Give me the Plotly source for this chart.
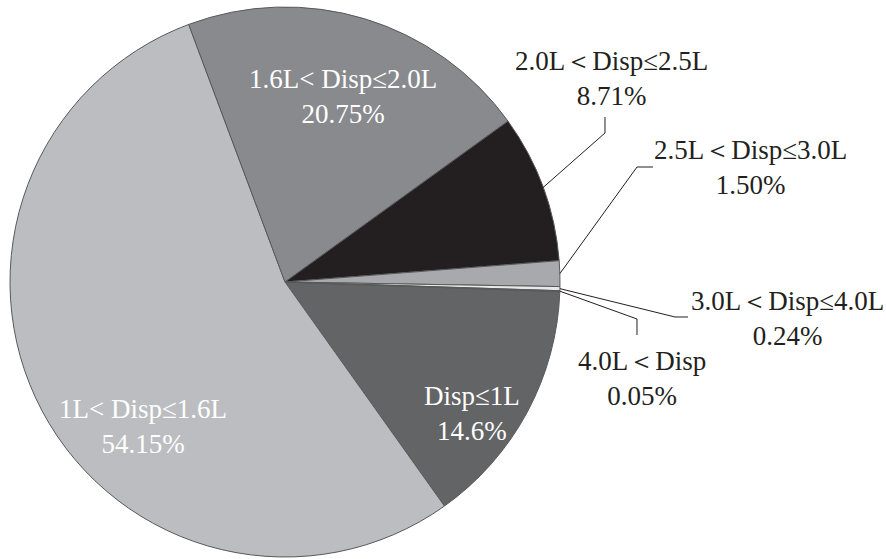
import numpy as np
import plotly.graph_objects as go

# ---- data ----
categories = ["Disp≤1L", "1L< Disp≤1.6L", "1.6L< Disp≤2.0L", "2.0L＜Disp≤2.5L",
              "2.5L＜Disp≤3.0L", "3.0L＜Disp≤4.0L", "4.0L＜Disp"]
shares = [14.6, 54.15, 20.75, 8.71, 1.50, 0.24, 0.05]
share_text = ["14.6%", "54.15%", "20.75%", "8.71%", "1.50%", "0.24%", "0.05%"]
colors = ["#636466", "#bcbdc0", "#898a8d", "#231f20", "#a7a9ac", "#e8e8e9", "#6d6e70"]

W, H = 886, 559
CX, CY, R = 285, 282, 275
ROT = 92  # degrees clockwise from 12 o'clock where first slice starts

fig = go.Figure(go.Pie(
    labels=categories, values=shares, sort=False, direction="clockwise",
    rotation=ROT, textinfo="none", hoverinfo="label+percent",
    marker=dict(colors=colors, line=dict(color="#58595b", width=1)),
    domain=dict(x=[(CX - R) / W, (CX + R) / W], y=[1 - (CY + R) / H, 1 - (CY - R) / H]),
    showlegend=False,
))

FONT = "Liberation Serif, Times New Roman, serif"

def px(x, y):
    return x / W, 1 - y / H

# label placements (pixel centers) and styles
inside = {0: (472, 413), 1: (143, 426), 2: (343, 96)}
outside = {
    3: dict(pos=(611, 78), path=[(605, 133), (605, 117)]),
    4: dict(pos=(750, 168), path=[(637, 167), (653, 167)]),
    5: dict(pos=(787, 318), path=[(675, 317), (688, 317)]),
    6: dict(pos=(642, 378), path=[(637, 319), (637, 335)]),
}

annotations = []
shapes = []
vals = np.array(shares) / sum(shares)
cum = np.cumsum(vals)
for i, cat in enumerate(categories):
    txt = f"{cat}<br>{share_text[i]}"
    if i in inside:
        x, y = inside[i]
        color = "white"
    else:
        x, y = outside[i]["pos"]
        color = "#231f20"
        mid = cum[i] - vals[i] / 2
        ang = np.deg2rad(ROT - 90 + mid * 360)
        sx, sy = CX + R * np.cos(ang), CY + R * np.sin(ang)
        pts = [(sx, sy)] + outside[i]["path"]
        d = "M " + " L ".join(f"{p[0] / W:.5f},{1 - p[1] / H:.5f}" for p in pts)
        shapes.append(dict(type="path", path=d, xref="paper", yref="paper",
                           line=dict(color="#231f20", width=1)))
    ax, ay = px(x, y)
    annotations.append(dict(x=ax, y=ay, xref="paper", yref="paper", text=txt,
                            showarrow=False, xanchor="center", yanchor="middle",
                            font=dict(family=FONT, size=27, color=color)))

fig.update_layout(width=W, height=H, margin=dict(l=0, r=0, t=0, b=0),
                  paper_bgcolor="white", plot_bgcolor="white",
                  annotations=annotations, shapes=shapes)
fig.write_html("out.html")
